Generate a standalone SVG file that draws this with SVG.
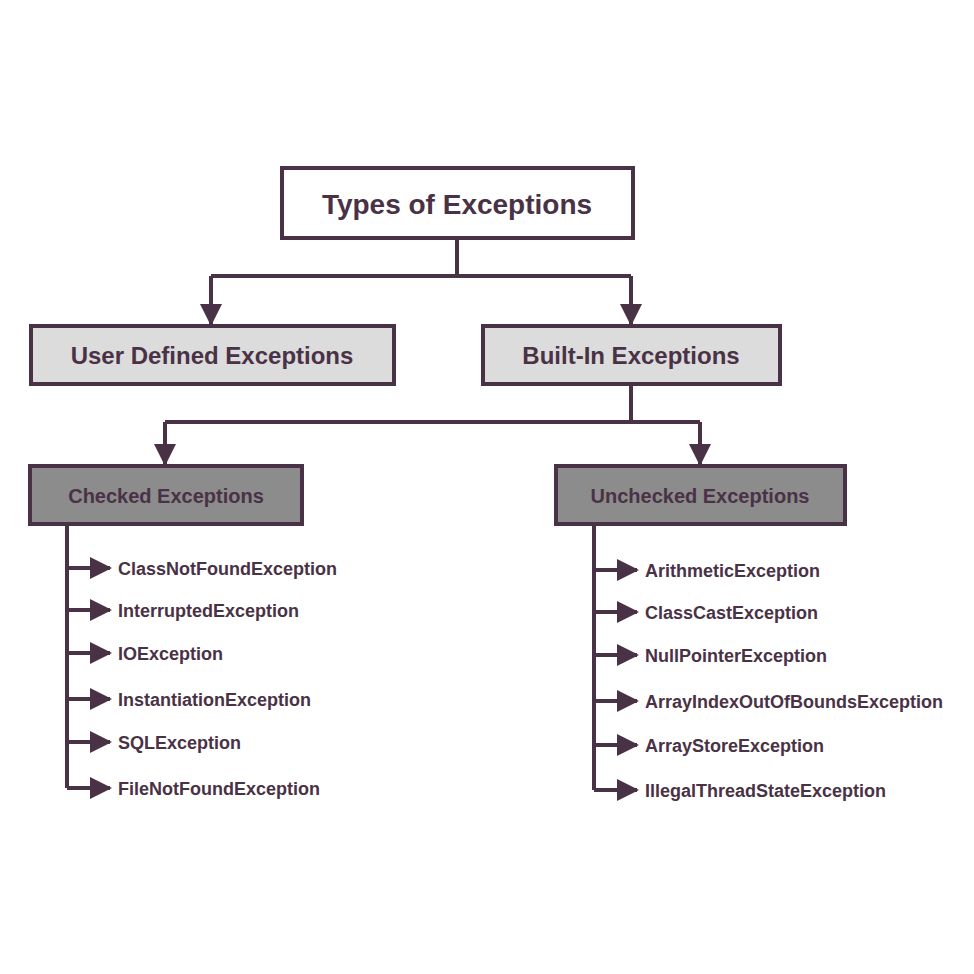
<svg xmlns="http://www.w3.org/2000/svg" width="974" height="974" viewBox="0 0 974 974">
<style>
.b{stroke:#4a3246;stroke-width:4}
.t{font-family:"Liberation Sans",Arial,sans-serif;font-weight:bold;fill:#4a3246}
.l{fill:none;stroke:#4a3246;stroke-width:4}
</style>
<defs><marker id="a" markerUnits="userSpaceOnUse" markerWidth="22" markerHeight="22" refX="20" refY="11" orient="auto"><path d="M0,0 L22,11 L0,22 Z" fill="#4a3246"/></marker></defs>
<rect width="974" height="974" fill="#fff"/>
<g id="connectors" class="l">
<path d="M457,238 V276 M211,276 H631" />
<path d="M211,276 V324" marker-end="url(#a)"/>
<path d="M631,276 V324" marker-end="url(#a)"/>
<path d="M631,385 V422 M165,422 H700"/>
<path d="M165,422 V464" marker-end="url(#a)"/>
<path d="M700,422 V464" marker-end="url(#a)"/>
<path d="M67,525 V788 M594,525 V790"/>
<path d="M67,568 H110" marker-end="url(#a)"/>
<path d="M67,610 H110" marker-end="url(#a)"/>
<path d="M67,653 H110" marker-end="url(#a)"/>
<path d="M67,699 H110" marker-end="url(#a)"/>
<path d="M67,742 H110" marker-end="url(#a)"/>
<path d="M67,788 H110" marker-end="url(#a)"/>
<path d="M594,570 H637" marker-end="url(#a)"/>
<path d="M594,612 H637" marker-end="url(#a)"/>
<path d="M594,655 H637" marker-end="url(#a)"/>
<path d="M594,701 H637" marker-end="url(#a)"/>
<path d="M594,745 H637" marker-end="url(#a)"/>
<path d="M594,790 H637" marker-end="url(#a)"/>
</g>
<g id="root"><rect x="282" y="168" width="351" height="70" fill="#fff" class="b"/><text x="457" y="214" text-anchor="middle" class="t" font-size="28">Types of Exceptions</text></g>
<g id="user"><rect x="31" y="326" width="363" height="58" fill="#dcdcdc" class="b"/><text x="212" y="364" text-anchor="middle" class="t" font-size="24">User Defined Exceptions</text></g>
<g id="builtin"><rect x="483" y="326" width="297" height="58" fill="#dcdcdc" class="b"/><text x="631" y="364" text-anchor="middle" class="t" font-size="24">Built-In Exceptions</text></g>
<g id="checked"><rect x="30" y="466" width="272" height="58" fill="#8c8c8c" class="b"/><text x="166" y="503" text-anchor="middle" class="t" font-size="20">Checked Exceptions</text></g>
<g id="unchecked"><rect x="556" y="466" width="289" height="58" fill="#8c8c8c" class="b"/><text x="700" y="503" text-anchor="middle" class="t" font-size="20">Unchecked Exceptions</text></g>
<g id="checked-items" class="t" font-size="18">
<text x="118" y="575">ClassNotFoundException</text>
<text x="118" y="617">InterruptedException</text>
<text x="118" y="660">IOException</text>
<text x="118" y="706">InstantiationException</text>
<text x="118" y="749">SQLException</text>
<text x="118" y="795">FileNotFoundException</text>
</g>
<g id="unchecked-items" class="t" font-size="18">
<text x="645" y="577">ArithmeticException</text>
<text x="645" y="619">ClassCastException</text>
<text x="645" y="662">NullPointerException</text>
<text x="645" y="708">ArrayIndexOutOfBoundsException</text>
<text x="645" y="752">ArrayStoreException</text>
<text x="645" y="797">IllegalThreadStateException</text>
</g>
</svg>
